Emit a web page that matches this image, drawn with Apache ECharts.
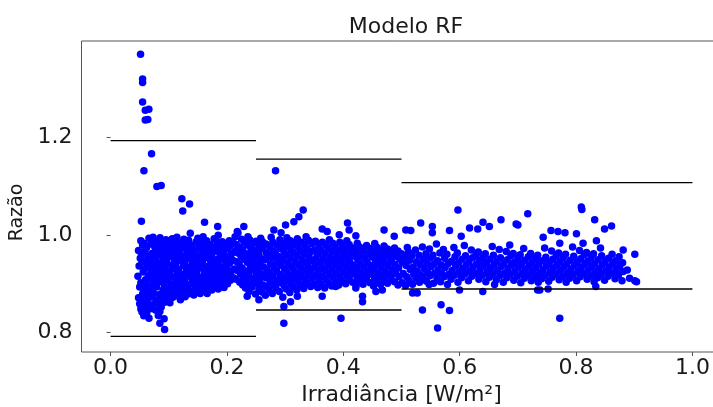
<!DOCTYPE html>
<html>
<head>
<meta charset="utf-8">
<script src="https://cdn.jsdelivr.net/npm/echarts@6/dist/echarts.min.js"></script>
<style>
html,body{margin:0;padding:0;background:#fff;}
#chart{width:713px;height:407px;}
</style>
</head>
<body>
<div id="chart"></div>
<script>
// ---- data ----
const titleText = "Modelo RF";
const xName = "Irradiância [W/m²]";
const yName = "Razão";
const xTicks = [0.0, 0.2, 0.4, 0.6, 0.8, 1.0];
const yTicks = [0.8, 1.0, 1.2];

// bound segments
const segStart = [0.0, 0.25, 0.5];
const segEnd = [0.25, 0.5, 1.0];
const upperBound = [1.193, 1.155, 1.107];
const lowerBound = [0.792, 0.846, 0.889];

// isolated points [x, y]
const outliers = [
  [0.0515,1.370],[0.055,1.319],[0.055,1.312],[0.055,1.272],[0.0596,1.255],[0.0658,1.257],
  [0.0596,1.235],[0.064,1.236],[0.0704,1.166],[0.0573,1.131],[0.0796,1.099],[0.087,1.101],
  [0.1225,1.074],[0.1357,1.063],[0.124,1.049],[0.053,1.028],[0.1615,1.026],[0.184,1.017],
  [0.229,1.017],[0.2835,1.131],[0.057,0.834],[0.0847,0.819],[0.0928,0.806],[0.0847,0.843],
  [0.166,0.880],[0.12,0.867],[0.052,0.848],[0.066,0.829],
  [0.331,1.051],[0.3236,1.037],[0.315,1.027],[0.3007,1.020],[0.2177,1.007],[0.2806,1.010],
  [0.3637,1.012],[0.3723,1.007],[0.2348,0.874],[0.2549,0.867],[0.2978,0.853],[0.3093,0.863],
  [0.321,0.874],[0.3637,0.874],[0.2978,0.819],[0.3294,0.894],
  [0.4072,1.024],[0.41,1.010],[0.393,1.000],[0.4215,0.998],[0.470,1.010],[0.4875,0.997],
  [0.5074,1.010],[0.516,1.009],[0.533,1.024],[0.553,1.017],[0.553,1.004],
  [0.387,0.894],[0.396,0.904],[0.4215,0.891],[0.433,0.874],[0.433,0.863],[0.456,0.884],
  [0.467,0.887],[0.519,0.881],[0.527,0.881],[0.5476,0.898],[0.536,0.846],[0.396,0.829],
  [0.562,0.809],[0.568,0.857],[0.5825,0.845],
  [0.597,1.051],[0.717,1.043],[0.671,1.031],[0.697,1.022],[0.700,1.020],[0.640,1.026],[0.651,1.017],
  [0.617,1.014],[0.631,1.012],[0.5825,1.009],[0.6026,0.997],[0.686,0.979],[0.5997,0.887],
  [0.6397,0.884],[0.66,0.898],[0.734,0.887],
  [0.809,1.057],[0.810,1.052],[0.832,1.031],[0.849,1.012],[0.861,1.018],[0.7435,0.995],
  [0.757,1.009],[0.769,1.007],[0.781,1.004],[0.8007,1.002],[0.772,0.983],[0.812,0.983],
  [0.835,0.988],[0.881,0.969],[0.901,0.960],[0.7377,0.887],[0.752,0.889],[0.834,0.894],
  [0.772,0.829],[0.904,0.904],[0.892,0.911],[0.888,0.928],[0.901,0.906]
];

// dense cloud at low irradiance
const cloudLow = [
  [0.048,0.871],[0.050,0.893],[0.047,0.915],[0.049,0.936],[0.051,0.952],[0.048,0.968],[0.050,0.859],
  [0.054,0.842],[0.053,0.861],[0.055,0.879],[0.052,0.902],[0.056,0.924],[0.054,0.944],[0.053,0.961],[0.055,0.979],[0.052,0.988],
  [0.058,0.851],[0.059,0.870],[0.057,0.889],[0.060,0.908],[0.058,0.929],[0.061,0.947],[0.059,0.966],[0.057,0.983],
  [0.062,0.838],[0.063,0.861],[0.064,0.882],[0.062,0.897],[0.065,0.916],[0.063,0.935],[0.064,0.956],[0.062,0.974],[0.066,0.993],
  [0.067,0.848],[0.068,0.872],[0.069,0.890],[0.067,0.911],[0.070,0.927],[0.068,0.946],[0.071,0.962],[0.069,0.981],
  [0.072,0.857],[0.074,0.880],[0.073,0.902],[0.075,0.921],[0.072,0.939],[0.074,0.957],[0.076,0.975],[0.073,0.995],
  [0.077,0.846],[0.078,0.866],[0.079,0.893],[0.077,0.912],[0.080,0.931],[0.078,0.950],[0.081,0.968],[0.079,0.986],
  [0.082,0.835],[0.083,0.859],[0.084,0.878],[0.082,0.903],[0.085,0.921],[0.083,0.942],[0.086,0.958],[0.084,0.977],[0.085,0.994],
  [0.087,0.852],[0.088,0.869],[0.090,0.887],[0.088,0.909],[0.089,0.929],[0.091,0.949],[0.088,0.966],[0.090,0.983],
  [0.092,0.828],[0.093,0.862],[0.094,0.880],[0.092,0.898],[0.095,0.917],[0.093,0.936],[0.096,0.954],[0.094,0.973],[0.095,0.990],
  [0.097,0.870],[0.099,0.889],[0.098,0.908],[0.100,0.926],[0.097,0.944],[0.099,0.963],[0.101,0.981],
  [0.102,0.861],[0.103,0.881],[0.104,0.899],[0.102,0.918],[0.105,0.937],[0.103,0.956],[0.104,0.972],[0.106,0.992],
  [0.107,0.872],[0.108,0.893],[0.109,0.912],[0.107,0.931],[0.110,0.949],[0.108,0.967],[0.109,0.985],
  [0.112,0.882],[0.113,0.903],[0.114,0.921],[0.112,0.940],[0.115,0.958],[0.113,0.977],[0.114,0.995],
  [0.117,0.874],[0.118,0.891],[0.119,0.911],[0.117,0.929],[0.120,0.948],[0.118,0.966],[0.119,0.983],
  [0.122,0.880],[0.124,0.900],[0.123,0.918],[0.125,0.937],[0.122,0.956],[0.124,0.973],[0.126,0.991],
  [0.128,0.873],[0.129,0.889],[0.127,0.908],[0.130,0.926],[0.128,0.945],[0.131,0.963],[0.129,0.981],
  [0.133,0.879],[0.134,0.897],[0.132,0.915],[0.135,0.934],[0.133,0.952],[0.136,0.971],[0.134,0.989],[0.137,1.003],
  [0.138,0.884],[0.140,0.905],[0.139,0.923],[0.141,0.942],[0.138,0.960],[0.140,0.978],
  [0.143,0.877],[0.145,0.893],[0.144,0.913],[0.146,0.930],[0.143,0.949],[0.145,0.968],[0.147,0.986],
  [0.149,0.886],[0.150,0.902],[0.148,0.921],[0.151,0.939],[0.149,0.957],[0.152,0.975],[0.150,0.993],
  [0.154,0.880],[0.155,0.897],[0.153,0.913],[0.156,0.932],[0.154,0.950],[0.157,0.966],[0.155,0.984],
  [0.159,0.889],[0.160,0.907],[0.161,0.925],[0.158,0.943],[0.160,0.961],[0.162,0.979],[0.159,0.996],
  [0.164,0.884],[0.165,0.900],[0.163,0.917],[0.166,0.935],[0.164,0.953],[0.167,0.971],[0.165,0.988],
  [0.169,0.893],[0.171,0.910],[0.170,0.928],[0.172,0.946],[0.169,0.964],[0.171,0.980],
  [0.174,0.887],[0.176,0.903],[0.175,0.921],[0.177,0.939],[0.174,0.957],[0.176,0.974],[0.178,0.992],
  [0.180,0.895],[0.181,0.913],[0.179,0.931],[0.182,0.949],[0.180,0.967],[0.183,0.985],[0.185,0.999],
  [0.185,0.889],[0.186,0.906],[0.187,0.924],[0.185,0.942],[0.188,0.960],[0.186,0.977],
  [0.190,0.897],[0.192,0.915],[0.191,0.933],[0.193,0.951],[0.190,0.969],[0.192,0.986],
  [0.195,0.892],[0.197,0.908],[0.196,0.926],[0.198,0.944],[0.195,0.962],[0.197,0.980],
  [0.201,0.900],[0.202,0.918],[0.200,0.936],[0.203,0.954],[0.201,0.972],[0.204,0.988],
  [0.206,0.907],[0.207,0.925],[0.205,0.943],[0.208,0.961],[0.206,0.978],
  [0.211,0.912],[0.212,0.930],[0.210,0.948],[0.213,0.966],[0.211,0.983],[0.214,0.996],
  [0.216,0.909],[0.218,0.927],[0.217,0.945],[0.219,0.963],[0.216,0.980],[0.219,1.004],
  [0.222,0.903],[0.223,0.921],[0.221,0.939],[0.224,0.957],[0.222,0.975],[0.225,0.991],
  [0.227,0.897],[0.228,0.914],[0.226,0.932],[0.229,0.950],[0.227,0.968],[0.230,0.986],
  [0.232,0.891],[0.234,0.908],[0.233,0.926],[0.235,0.944],[0.232,0.962],[0.234,0.979],[0.236,0.996],
  [0.238,0.884],[0.239,0.901],[0.237,0.919],[0.240,0.937],[0.238,0.955],[0.241,0.973],[0.239,0.990],
  [0.243,0.893],[0.245,0.910],[0.244,0.928],[0.246,0.946],[0.243,0.964],[0.245,0.982]
];

// dense cloud at mid irradiance
const cloudMid = [
  [0.249,0.879],[0.251,0.901],[0.250,0.917],[0.252,0.938],[0.249,0.955],[0.251,0.969],[0.250,0.987],
  [0.255,0.889],[0.256,0.908],[0.254,0.926],[0.257,0.944],[0.255,0.961],[0.256,0.979],[0.258,0.993],
  [0.260,0.883],[0.262,0.897],[0.261,0.919],[0.263,0.934],[0.260,0.951],[0.262,0.972],[0.261,0.986],
  [0.266,0.876],[0.268,0.894],[0.267,0.912],[0.269,0.929],[0.266,0.949],[0.268,0.963],[0.267,0.981],
  [0.272,0.888],[0.274,0.905],[0.273,0.922],[0.275,0.941],[0.272,0.958],[0.274,0.975],[0.276,0.995],
  [0.278,0.880],[0.280,0.898],[0.279,0.915],[0.281,0.933],[0.278,0.953],[0.280,0.967],[0.279,0.985],
  [0.284,0.891],[0.286,0.907],[0.285,0.927],[0.287,0.944],[0.284,0.960],[0.286,0.979],
  [0.290,0.884],[0.292,0.902],[0.291,0.919],[0.293,0.937],[0.290,0.955],[0.292,0.972],[0.291,0.990],[0.293,1.004],
  [0.296,0.872],[0.298,0.896],[0.297,0.913],[0.299,0.930],[0.296,0.948],[0.298,0.966],[0.297,0.983],
  [0.302,0.889],[0.304,0.906],[0.303,0.924],[0.305,0.942],[0.302,0.959],[0.304,0.977],[0.303,0.994],
  [0.308,0.882],[0.310,0.900],[0.309,0.917],[0.311,0.935],[0.308,0.953],[0.310,0.970],[0.309,0.988],
  [0.314,0.893],[0.316,0.910],[0.315,0.928],[0.317,0.946],[0.314,0.964],[0.316,0.981],
  [0.320,0.887],[0.322,0.904],[0.321,0.921],[0.323,0.939],[0.320,0.957],[0.322,0.975],[0.321,0.992],
  [0.326,0.897],[0.328,0.914],[0.327,0.932],[0.329,0.950],[0.326,0.968],[0.328,0.985],
  [0.332,0.890],[0.334,0.908],[0.333,0.926],[0.335,0.943],[0.332,0.961],[0.334,0.978],[0.336,0.996],
  [0.338,0.901],[0.340,0.918],[0.339,0.936],[0.341,0.954],[0.338,0.971],[0.340,0.989],
  [0.344,0.894],[0.346,0.911],[0.345,0.929],[0.347,0.947],[0.344,0.965],[0.346,0.982],
  [0.350,0.899],[0.352,0.917],[0.351,0.935],[0.353,0.952],[0.350,0.969],[0.352,0.987],
  [0.356,0.892],[0.358,0.908],[0.357,0.926],[0.359,0.944],[0.356,0.961],[0.358,0.978],
  [0.362,0.898],[0.364,0.915],[0.363,0.933],[0.365,0.951],[0.362,0.968],[0.364,0.985],
  [0.368,0.891],[0.370,0.909],[0.369,0.927],[0.371,0.945],[0.368,0.962],[0.370,0.979],
  [0.374,0.902],[0.376,0.920],[0.375,0.938],[0.377,0.955],[0.374,0.973],[0.376,0.990],
  [0.380,0.895],[0.382,0.913],[0.381,0.930],[0.383,0.948],[0.380,0.966],[0.382,0.983],
  [0.386,0.904],[0.388,0.921],[0.387,0.939],[0.389,0.957],[0.386,0.974],
  [0.392,0.897],[0.394,0.914],[0.393,0.932],[0.395,0.950],[0.392,0.967],[0.394,0.985],
  [0.398,0.907],[0.400,0.924],[0.399,0.942],[0.401,0.960],[0.398,0.978],
  [0.404,0.900],[0.406,0.917],[0.405,0.935],[0.407,0.953],[0.404,0.970],[0.406,0.988],
  [0.410,0.910],[0.412,0.927],[0.411,0.945],[0.413,0.963],[0.410,0.980],
  [0.416,0.903],[0.418,0.920],[0.417,0.938],[0.419,0.956],[0.416,0.973],
  [0.422,0.896],[0.424,0.913],[0.423,0.931],[0.425,0.949],[0.422,0.966],[0.424,0.983],
  [0.428,0.906],[0.430,0.923],[0.429,0.941],[0.431,0.958],[0.428,0.975],
  [0.434,0.899],[0.436,0.916],[0.435,0.934],[0.437,0.952],[0.434,0.969],
  [0.440,0.909],[0.442,0.926],[0.441,0.944],[0.443,0.961],[0.440,0.978],
  [0.446,0.902],[0.448,0.919],[0.447,0.937],[0.449,0.955],[0.446,0.972],
  [0.452,0.895],[0.454,0.912],[0.453,0.930],[0.455,0.948],[0.452,0.965],[0.454,0.982],
  [0.458,0.905],[0.460,0.922],[0.459,0.940],[0.461,0.957],[0.458,0.974],
  [0.464,0.898],[0.466,0.915],[0.465,0.933],[0.467,0.951],[0.464,0.968],
  [0.470,0.908],[0.472,0.925],[0.471,0.943],[0.473,0.960],[0.470,0.977],
  [0.476,0.901],[0.478,0.918],[0.477,0.936],[0.479,0.954],[0.476,0.971],
  [0.482,0.911],[0.484,0.928],[0.483,0.946],[0.485,0.963],
  [0.488,0.904],[0.490,0.921],[0.489,0.939],[0.491,0.956],[0.488,0.973],
  [0.494,0.897],[0.496,0.914],[0.495,0.932],[0.497,0.950],[0.494,0.967]
];

// cloud at high irradiance
const cloudHigh = [
  [0.501,0.902],[0.503,0.921],[0.502,0.943],[0.500,0.961],
  [0.507,0.896],[0.509,0.914],[0.508,0.937],[0.506,0.955],[0.510,0.974],
  [0.513,0.907],[0.515,0.929],[0.514,0.948],[0.512,0.965],
  [0.519,0.899],[0.521,0.919],[0.520,0.934],[0.518,0.957],
  [0.525,0.911],[0.527,0.926],[0.526,0.945],[0.524,0.969],
  [0.531,0.903],[0.533,0.918],[0.532,0.939],[0.530,0.958],
  [0.537,0.913],[0.539,0.931],[0.538,0.950],[0.536,0.975],
  [0.543,0.905],[0.545,0.923],[0.544,0.942],[0.542,0.961],
  [0.549,0.916],[0.551,0.935],[0.550,0.953],[0.548,0.971],
  [0.555,0.901],[0.557,0.922],[0.556,0.940],[0.554,0.958],
  [0.561,0.912],[0.563,0.928],[0.562,0.947],[0.560,0.981],
  [0.567,0.904],[0.569,0.921],[0.568,0.938],[0.566,0.963],
  [0.573,0.914],[0.575,0.933],[0.574,0.952],[0.572,0.970],
  [0.579,0.898],[0.581,0.919],[0.580,0.941],[0.578,0.960],
  [0.585,0.909],[0.587,0.927],[0.586,0.946],
  [0.591,0.917],[0.593,0.936],[0.592,0.955],[0.590,0.974],
  [0.597,0.903],[0.599,0.924],[0.598,0.943],[0.596,0.963],
  [0.603,0.912],[0.605,0.931],[0.604,0.950],
  [0.609,0.920],[0.611,0.938],[0.610,0.957],[0.608,0.978],
  [0.615,0.906],[0.617,0.926],[0.616,0.945],
  [0.621,0.915],[0.623,0.934],[0.622,0.953],[0.620,0.969],
  [0.627,0.921],[0.629,0.940],[0.628,0.958],
  [0.633,0.909],[0.635,0.929],[0.634,0.947],[0.632,0.965],
  [0.639,0.917],[0.641,0.936],[0.640,0.954],
  [0.645,0.904],[0.647,0.924],[0.646,0.943],[0.644,0.961],
  [0.651,0.913],[0.653,0.932],[0.652,0.950],
  [0.657,0.920],[0.659,0.939],[0.658,0.958],[0.656,0.976],
  [0.663,0.908],[0.665,0.927],[0.664,0.946],
  [0.669,0.916],[0.671,0.935],[0.670,0.953],[0.668,0.970],
  [0.675,0.903],[0.677,0.922],[0.676,0.941],
  [0.681,0.912],[0.683,0.931],[0.682,0.949],[0.680,0.966],
  [0.687,0.919],[0.689,0.938],[0.688,0.957],
  [0.693,0.907],[0.695,0.926],[0.694,0.944],[0.692,0.962],
  [0.699,0.915],[0.701,0.934],[0.700,0.952],
  [0.705,0.902],[0.707,0.922],[0.706,0.940],[0.704,0.959],
  [0.711,0.911],[0.713,0.930],[0.712,0.948],[0.710,0.972],
  [0.717,0.918],[0.719,0.937],[0.718,0.955],
  [0.723,0.906],[0.725,0.925],[0.724,0.943],[0.722,0.962],
  [0.729,0.914],[0.731,0.933],[0.730,0.951],
  [0.735,0.903],[0.737,0.921],[0.736,0.940],[0.734,0.958],
  [0.741,0.910],[0.743,0.929],[0.742,0.947],
  [0.747,0.917],[0.749,0.936],[0.748,0.954],[0.746,0.973],
  [0.753,0.905],[0.755,0.924],[0.754,0.943],
  [0.759,0.913],[0.761,0.932],[0.760,0.950],[0.758,0.967],
  [0.765,0.920],[0.767,0.939],[0.766,0.957],
  [0.771,0.908],[0.773,0.927],[0.772,0.945],[0.770,0.963],
  [0.777,0.915],[0.779,0.934],[0.778,0.953],
  [0.783,0.903],[0.785,0.922],[0.784,0.941],[0.782,0.960],
  [0.789,0.911],[0.791,0.930],[0.790,0.948],
  [0.795,0.918],[0.797,0.937],[0.796,0.956],[0.794,0.975],
  [0.801,0.906],[0.803,0.925],[0.802,0.944],
  [0.807,0.914],[0.809,0.933],[0.808,0.951],[0.806,0.968],
  [0.813,0.921],[0.815,0.940],[0.814,0.959],
  [0.819,0.909],[0.821,0.928],[0.820,0.946],[0.818,0.964],
  [0.825,0.916],[0.827,0.935],[0.826,0.954],
  [0.831,0.904],[0.833,0.923],[0.832,0.942],[0.830,0.961],
  [0.837,0.912],[0.839,0.931],[0.838,0.949],
  [0.843,0.919],[0.845,0.938],[0.844,0.957],[0.842,0.973],
  [0.849,0.907],[0.851,0.926],[0.850,0.945],
  [0.855,0.915],[0.857,0.934],[0.856,0.952],
  [0.861,0.922],[0.863,0.941],[0.862,0.960],
  [0.867,0.910],[0.869,0.929],[0.868,0.947],
  [0.873,0.918],[0.875,0.936],[0.874,0.955],
  [0.879,0.906],[0.881,0.925],[0.880,0.943]
];

// ---- build ----
const points = outliers.concat(cloudLow, cloudMid, cloudHigh);

const boundSeries = [];
for (let i = 0; i < segStart.length; i++) {
  [upperBound[i], lowerBound[i]].forEach(v => {
    boundSeries.push({
      type: 'line', data: [[segStart[i], v], [segEnd[i], v]],
      symbol: 'none', silent: true, z: 5,
      lineStyle: { color: '#000', width: 1.3 }
    });
  });
}

const chart = echarts.init(document.getElementById('chart'), null, { renderer: 'canvas' });
const font = 'DejaVu Sans';
chart.setOption({
  animation: false,
  backgroundColor: '#fff',
  title: {
    text: titleText, left: 401, top: 11, textAlign: 'center',
    textStyle: { fontFamily: font, fontSize: 22, fontWeight: 'normal', color: '#1a1a1a' }
  },
  grid: { left: 81.5, top: 41, width: 640, height: 311, containLabel: false, outerBoundsMode: 'none',
    show: true, borderColor: '#555', borderWidth: 1, backgroundColor: 'transparent' },
  xAxis: {
    type: 'value', min: -0.05, max: 1.05,
    name: xName, nameLocation: 'middle', nameGap: 28,
    nameTextStyle: { fontFamily: font, fontSize: 22, color: '#1a1a1a' },
    axisLine: { show: false },
    splitLine: { show: false },
    axisTick: { show: true, inside: false, length: 4, lineStyle: { color: '#555' }, customValues: xTicks },
    axisLabel: { customValues: xTicks, fontFamily: font, fontSize: 22, color: '#1a1a1a', margin: 5,
      formatter: v => v.toFixed(1) }
  },
  yAxis: {
    type: 'value', min: 0.76, max: 1.397,
    name: yName, nameLocation: 'middle', nameGap: 41,
    nameTextStyle: { fontFamily: font, fontSize: 19, color: '#1a1a1a', padding: [0, 32, 0, 0] },
    axisLine: { show: false },
    splitLine: { show: false },
    axisTick: { show: true, inside: false, length: 4, lineStyle: { color: '#555' }, customValues: yTicks },
    axisLabel: { customValues: yTicks, fontFamily: font, fontSize: 22, color: '#1a1a1a', margin: 9,
      formatter: v => v.toFixed(1) }
  },
  series: [{
    type: 'scatter', data: points, symbolSize: 7.5, z: 3,
    itemStyle: { color: '#0000ff', opacity: 1 }
  }].concat(boundSeries)
});
</script>
</body>
</html>
